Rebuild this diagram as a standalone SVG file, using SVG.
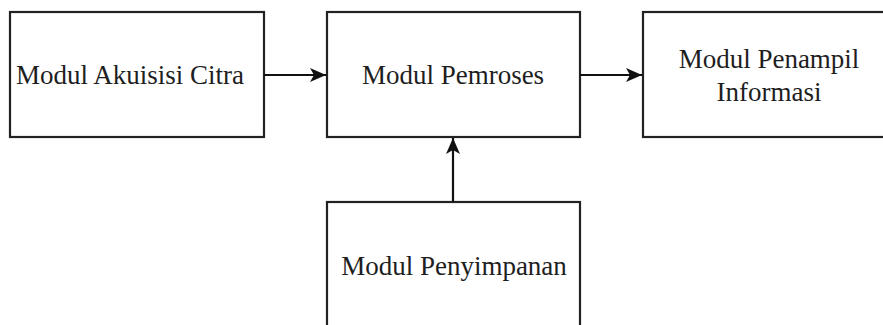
<svg xmlns="http://www.w3.org/2000/svg" width="883" height="325" viewBox="0 0 883 325">
<style>
.box{fill:#ffffff;stroke:#222222;stroke-width:2.2}
.lbl{font-family:"Liberation Serif","Times New Roman",serif;font-size:27px;fill:#1e1e1e;text-anchor:middle}
.conn{stroke:#111111;stroke-width:2.2;fill:none}
</style>
<defs>
<marker id="arr" viewBox="0 0 16 14" refX="16" refY="7" markerWidth="16" markerHeight="14" markerUnits="userSpaceOnUse" orient="auto">
<path d="M0,0 L16,7 L0,14 L4,7 Z" fill="#111111"/>
</marker>
</defs>
<rect width="883" height="325" fill="#ffffff"/>
<g id="akuisisi">
<rect class="box" x="10" y="12" width="254" height="125"/>
<text class="lbl" x="130" y="84">Modul Akuisisi Citra</text>
</g>
<g id="pemroses">
<rect class="box" x="327" y="12" width="253" height="125"/>
<text class="lbl" x="453" y="84">Modul Pemroses</text>
</g>
<g id="penampil">
<rect class="box" x="643" y="12" width="253" height="125"/>
<text class="lbl" x="769" y="68">Modul Penampil</text>
<text class="lbl" x="769" y="101">Informasi</text>
</g>
<g id="penyimpanan">
<rect class="box" x="327" y="202" width="253" height="130"/>
<text class="lbl" x="454" y="275">Modul Penyimpanan</text>
</g>
<g id="connectors">
<line class="conn" x1="264" y1="75" x2="326" y2="75" marker-end="url(#arr)"/>
<line class="conn" x1="580" y1="75" x2="642" y2="75" marker-end="url(#arr)"/>
<line class="conn" x1="453" y1="202" x2="453" y2="138" marker-end="url(#arr)"/>
</g>
</svg>
